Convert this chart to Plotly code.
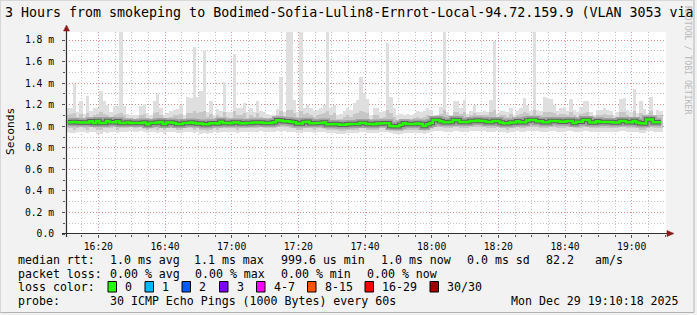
import plotly.graph_objects as go
import pandas as pd

# ---------------- data (ms) ----------------
start_time = "2025-12-29 16:10:50"
step_seconds = 60

rtt_max = [
    1.17, 1.17, 1.39, 1.13, 1.23, 1.11, 1.28, 1.14, 1.17, 1.17, 1.33, 1.23, 1.20, 1.13, 1.19,
    1.19, 1.95, 1.19, 1.11, 1.10, 1.10, 1.10, 1.19, 1.21, 1.12, 1.10, 1.23, 1.30, 1.17, 1.10,
    1.12, 1.14, 1.15, 1.16, 1.20, 1.10, 1.27, 1.26, 1.74, 1.27, 1.33, 1.71, 1.13, 1.23, 1.10,
    1.16, 1.14, 1.41, 1.13, 1.13, 1.67, 1.17, 1.17, 1.22, 1.13, 1.17, 1.13, 1.23, 1.14, 1.13,
    1.11, 1.10, 1.10, 1.16, 1.46, 1.13, 1.95, 1.95, 1.24, 1.13, 1.95, 1.17, 1.20, 1.17, 1.14,
    1.15, 1.17, 1.20, 1.95, 1.17, 1.20, 1.10, 1.11, 1.14, 1.17, 1.15, 1.22, 1.24, 1.46, 1.31,
    1.25, 1.10, 1.17, 1.17, 1.13, 1.14, 1.77, 1.27, 1.17, 1.10, 1.11, 1.10, 1.11, 1.10, 1.11,
    1.14, 1.13, 1.14, 1.17, 1.15, 1.10, 1.10, 1.18, 1.95, 1.13, 1.10, 1.23, 1.23, 1.17, 1.24,
    1.11, 1.14, 1.20, 1.13, 1.13, 1.14, 1.13, 1.24, 1.79, 1.11, 1.14, 1.14, 1.13, 1.17, 1.10,
    1.14, 1.17, 1.26, 1.20, 1.14, 1.95, 1.15, 1.14, 1.27, 1.26, 1.25, 1.20, 1.14, 1.17, 1.18,
    1.14, 1.25, 1.15, 1.13, 1.18, 1.23, 1.23, 1.13, 1.10, 1.15, 1.15, 1.17, 1.15, 1.14, 1.10,
    1.13, 1.25, 1.26, 1.15, 1.13, 1.35, 1.12, 1.23, 1.16, 1.11, 1.27, 1.10, 1.15, 1.14,
]

rtt_p90 = [
    1.10, 1.11, 1.12, 1.09, 1.11, 1.08, 1.12, 1.09, 1.10, 1.11, 1.13, 1.11, 1.10, 1.08, 1.10,
    1.11, 1.12, 1.10, 1.08, 1.08, 1.07, 1.08, 1.10, 1.11, 1.08, 1.07, 1.12, 1.13, 1.10, 1.07,
    1.08, 1.09, 1.10, 1.10, 1.11, 1.07, 1.12, 1.12, 1.14, 1.12, 1.13, 1.14, 1.09, 1.11, 1.08,
    1.10, 1.09, 1.13, 1.09, 1.08, 1.14, 1.10, 1.10, 1.12, 1.08, 1.10, 1.09, 1.12, 1.09, 1.08,
    1.08, 1.07, 1.08, 1.10, 1.14, 1.09, 1.15, 1.15, 1.12, 1.09, 1.14, 1.11, 1.12, 1.10, 1.09,
    1.10, 1.11, 1.12, 1.14, 1.10, 1.12, 1.07, 1.07, 1.09, 1.10, 1.09, 1.11, 1.12, 1.14, 1.13,
    1.12, 1.07, 1.10, 1.10, 1.08, 1.09, 1.15, 1.12, 1.09, 1.06, 1.07, 1.07, 1.07, 1.07, 1.08,
    1.09, 1.08, 1.09, 1.10, 1.09, 1.09, 1.10, 1.11, 1.15, 1.10, 1.09, 1.13, 1.13, 1.11, 1.13,
    1.09, 1.10, 1.12, 1.10, 1.10, 1.10, 1.10, 1.13, 1.15, 1.09, 1.10, 1.10, 1.09, 1.11, 1.08,
    1.10, 1.11, 1.13, 1.12, 1.10, 1.15, 1.10, 1.10, 1.13, 1.13, 1.13, 1.12, 1.10, 1.11, 1.11,
    1.10, 1.13, 1.10, 1.09, 1.11, 1.12, 1.13, 1.09, 1.08, 1.10, 1.10, 1.11, 1.10, 1.10, 1.08,
    1.09, 1.13, 1.13, 1.10, 1.09, 1.14, 1.09, 1.12, 1.10, 1.10, 1.14, 1.08, 1.10, 1.10,
]

rtt_median = [
    1.037, 1.037, 1.040, 1.037, 1.034, 1.034, 1.034, 1.046, 1.031, 1.050,
    1.031, 1.031, 1.050, 1.037, 1.037, 1.046, 1.031, 1.031, 1.034, 1.031,
    1.031, 1.031, 1.031, 1.034, 1.018, 1.031, 1.031, 1.034, 1.040, 1.021,
    1.034, 1.034, 1.031, 1.021, 1.021, 1.031, 1.031, 1.034, 1.031, 1.025,
    1.025, 1.018, 1.018, 1.028, 1.028,
    1.025, 1.043, 1.031, 1.031, 1.028, 1.034, 1.034, 1.028, 1.028, 1.031,
    1.031, 1.034, 1.034, 1.034, 1.031, 1.031, 1.031, 1.037, 1.056, 1.053,
    1.046, 1.046, 1.043, 1.037, 1.025, 1.025, 1.040, 1.043, 1.028, 1.028,
    1.031, 1.031, 1.034, 1.018, 1.018, 1.021, 1.018, 1.015, 1.015, 1.018,
    1.021, 1.021, 1.021, 1.031, 1.031,
    1.021, 1.021, 1.018, 1.025, 1.025, 1.028, 1.028, 1.003, 0.999, 1.000,
    1.015, 1.028, 1.021, 1.021, 1.021, 1.025, 1.021, 1.003, 1.018, 1.031,
    1.059, 1.059, 1.046, 1.037, 1.037, 1.040, 1.059, 1.056, 1.040, 1.040,
    1.040, 1.050, 1.050, 1.053, 1.050, 1.050, 1.040, 1.040, 1.050, 1.050,
    1.034, 1.028, 1.028, 1.034, 1.034,
    1.046, 1.037, 1.037, 1.053, 1.059, 1.059, 1.046, 1.046, 1.037, 1.037,
    1.050, 1.050, 1.050, 1.043, 1.043, 1.050, 1.050, 1.031, 1.043, 1.043,
    1.059, 1.059, 1.034, 1.034, 1.046, 1.040, 1.040, 1.040, 1.040, 1.034,
    1.034, 1.050, 1.050, 1.037, 1.037, 1.050, 1.034, 1.028, 1.025, 1.062,
    1.062, 1.037, 1.037, 1.037,
]

rtt_p10 = [
    0.98, 0.98, 0.97, 0.98, 0.99, 0.98, 0.97, 0.99, 0.98, 0.97, 0.97, 0.98, 0.98, 0.98, 0.99,
    0.97, 0.98, 0.98, 0.98, 0.99, 0.98, 0.98, 0.99, 0.98, 0.97, 0.98, 0.98, 0.97, 0.98, 0.97,
    0.98, 0.98, 0.98, 0.97, 0.97, 0.98, 0.98, 0.98, 0.97, 0.98, 0.97, 0.97, 0.96, 0.97, 0.98,
    0.97, 0.98, 0.98, 0.98, 0.98, 0.98, 0.97, 0.98, 0.98, 0.98, 0.98, 0.98, 0.98, 0.99, 0.98,
    0.98, 0.98, 0.98, 0.99, 0.99, 0.99, 0.99, 0.98, 0.98, 0.97, 0.97, 0.98, 0.98, 0.98, 0.97,
    0.98, 0.98, 0.98, 0.97, 0.97, 0.97, 0.97, 0.96, 0.96, 0.97, 0.97, 0.97, 0.97, 0.98, 0.98,
    0.97, 0.97, 0.97, 0.97, 0.98, 0.98, 0.98, 0.97, 0.96, 0.96, 0.96, 0.97, 0.97, 0.97, 0.97,
    0.97, 0.97, 0.96, 0.97, 0.98, 0.99, 0.99, 0.99, 0.98, 0.98, 0.98, 0.99, 0.99, 0.98, 0.98,
    0.98, 0.99, 0.99, 0.99, 0.99, 0.99, 0.98, 0.98, 0.98, 0.99, 0.98, 0.98, 0.97, 0.98, 0.98,
    0.99, 0.98, 0.98, 0.99, 0.99, 0.99, 0.99, 0.98, 0.98, 0.98, 0.99, 0.99, 0.98, 0.98, 0.98,
    0.99, 0.99, 0.98, 0.98, 0.98, 0.99, 0.99, 0.98, 0.98, 0.98, 0.98, 0.98, 0.98, 0.98, 0.98,
    0.98, 0.99, 0.99, 0.98, 0.98, 0.98, 0.98, 0.97, 0.97, 0.99, 0.99, 0.98, 0.98, 0.98,
]

rtt_min = [
    0.95, 0.94, 0.94, 0.95, 0.95, 0.95, 0.94, 0.95, 0.95, 0.93, 0.93, 0.95, 0.94, 0.95, 0.95,
    0.94, 0.95, 0.95, 0.95, 0.96, 0.95, 0.95, 0.96, 0.95, 0.94, 0.95, 0.95, 0.94, 0.95, 0.93,
    0.95, 0.95, 0.95, 0.94, 0.94, 0.95, 0.95, 0.95, 0.94, 0.95, 0.93, 0.94, 0.93, 0.94, 0.95,
    0.94, 0.95, 0.95, 0.95, 0.95, 0.95, 0.94, 0.95, 0.95, 0.95, 0.95, 0.95, 0.95, 0.96, 0.95,
    0.95, 0.95, 0.95, 0.96, 0.95, 0.96, 0.95, 0.95, 0.95, 0.94, 0.94, 0.95, 0.95, 0.95, 0.94,
    0.95, 0.95, 0.95, 0.94, 0.94, 0.94, 0.93, 0.93, 0.93, 0.94, 0.94, 0.94, 0.94, 0.95, 0.95,
    0.94, 0.94, 0.94, 0.94, 0.95, 0.95, 0.95, 0.94, 0.93, 0.93, 0.93, 0.94, 0.94, 0.94, 0.94,
    0.94, 0.94, 0.93, 0.94, 0.95, 0.96, 0.96, 0.96, 0.95, 0.95, 0.95, 0.96, 0.96, 0.95, 0.95,
    0.95, 0.96, 0.96, 0.96, 0.96, 0.96, 0.95, 0.95, 0.95, 0.96, 0.95, 0.95, 0.94, 0.95, 0.95,
    0.96, 0.95, 0.95, 0.96, 0.96, 0.96, 0.96, 0.95, 0.95, 0.95, 0.96, 0.96, 0.95, 0.95, 0.95,
    0.96, 0.96, 0.95, 0.95, 0.95, 0.96, 0.96, 0.95, 0.95, 0.95, 0.95, 0.95, 0.95, 0.95, 0.95,
    0.95, 0.96, 0.96, 0.95, 0.95, 0.95, 0.95, 0.94, 0.94, 0.96, 0.96, 0.95, 0.95, 0.95,
]

y_tick_vals = [0.0, 0.2, 0.4, 0.6, 0.8, 1.0, 1.2, 1.4, 1.6, 1.8]
y_tick_text = ["0.0", "0.2 m", "0.4 m", "0.6 m", "0.8 m", "1.0 m", "1.2 m", "1.4 m", "1.6 m", "1.8 m"]

title_text = "3 Hours from smokeping to Bodimed-Sofia-Lulin8-Ernrot-Local-94.72.159.9 (VLAN 3053 via"

legend_rows = [
    ["median rtt:", "1.0 ms avg", "1.1 ms max", "999.6 us min", "1.0 ms now", "0.0 ms sd", "82.2", "am/s"],
    ["packet loss:", "0.00 % avg", "0.00 % max", "0.00 % min", "0.00 % now"],
]
loss_labels = ["0", "1", "2", "3", "4-7", "8-15", "16-29", "30/30"]
loss_colors = ["#26ff00", "#00b8ff", "#0059ff", "#7e00ff", "#ff00ff", "#ff5500", "#ff0000", "#a10000"]
probe_text = "30 ICMP Echo Pings (1000 Bytes) every 60s"
stamp_text = "Mon Dec 29 19:10:18 2025"

n = len(rtt_median)
assert all(len(a) == n for a in (rtt_max, rtt_p90, rtt_p10, rtt_min))

times = pd.date_range(start_time, periods=n, freq=f"{step_seconds}s")

# ---------------- geometry ----------------
W, H = 697, 315
ML, MR, MT, MB = 66, 31, 32, 81
PW, PH = W - ML - MR, H - MT - MB


def fx(px):
    return (px - ML) / PW


def fy(py):
    return (H - MB - py) / PH


MONO = "DejaVu Sans Mono"
BG = "#f2f2f2"

fig = go.Figure()
fig.add_trace(go.Bar(
    x=times, y=[hi - lo for hi, lo in zip(rtt_max, rtt_min)], base=rtt_min,
    width=step_seconds * 1000, marker=dict(color="#dfdfdf", line=dict(width=0)), hoverinfo="skip"))
fig.add_trace(go.Bar(
    x=times, y=[hi - lo for hi, lo in zip(rtt_p90, rtt_p10)], base=rtt_p10,
    width=step_seconds * 1000, marker=dict(color="#c6c6c6", line=dict(width=0)), hoverinfo="skip"))
fig.add_trace(go.Scatter(x=times, y=rtt_median, mode="lines",
                         line=dict(shape="hvh", color="#a2a2a2", width=8), hoverinfo="skip"))
fig.add_trace(go.Scatter(x=times, y=rtt_median, mode="lines",
                         line=dict(shape="hvh", color="#606060", width=4.5), hoverinfo="skip"))
fig.add_trace(go.Scatter(x=times, y=rtt_median, mode="lines",
                         line=dict(shape="hvh", color="#26ff00", width=2.5)))

major_grid = "rgba(225,120,120,0.75)"
minor_grid = "#c4c4c4"

fig.update_layout(
    width=W, height=H, margin=dict(l=ML, r=MR, t=MT, b=MB, pad=0),
    paper_bgcolor=BG, plot_bgcolor="#ffffff",
    barmode="overlay", bargap=0, showlegend=False,
    font=dict(family=MONO, size=10, color="#000000"),
    xaxis=dict(
        type="date", range=["2025-12-29 16:10:18", "2025-12-29 19:10:18"],
        tick0="2025-12-29 16:20:00", dtick=20 * 60 * 1000, tickformat="%H:%M",
        showgrid=True, gridcolor=major_grid, griddash="1px,2px", gridwidth=1,
        minor=dict(dtick=5 * 60 * 1000, showgrid=True, gridcolor=minor_grid, griddash="1px,2px",
                   ticks="outside", ticklen=2, tickcolor="#555555"),
        ticks="outside", ticklen=3, tickcolor="#555555",
        tickfont=dict(family=MONO, size=9.7, color="#000000"),
        zeroline=False, showline=False, fixedrange=True,
    ),
    yaxis=dict(
        range=[0, 1.875], tickmode="array", tickvals=y_tick_vals, ticktext=y_tick_text,
        showgrid=True, gridcolor=major_grid, griddash="1px,2px", gridwidth=1,
        minor=dict(dtick=0.1, tick0=0, showgrid=True, gridcolor=minor_grid, griddash="1px,2px",
                   ticks="outside", ticklen=2, tickcolor="#555555"),
        ticks="outside", ticklen=3, tickcolor="#555555", ticklabelstandoff=6,
        tickfont=dict(family=MONO, size=9.7, color="#000000"),
        zeroline=False, showline=False, fixedrange=True,
    ),
)

shapes = []
# frame
shapes.append(dict(type="line", xref="paper", yref="paper", x0=fx(0), x1=fx(694), y0=fy(312.5), y1=fy(312.5),
                   line=dict(color="#b4b4b4", width=1)))
shapes.append(dict(type="line", xref="paper", yref="paper", x0=fx(694), x1=fx(694), y0=fy(0), y1=fy(312.5),
                   line=dict(color="#b4b4b4", width=1)))
shapes.append(dict(type="line", xref="paper", yref="paper", x0=fx(0.5), x1=fx(694), y0=fy(0.5), y1=fy(0.5),
                   line=dict(color="#d8d8d8", width=1)))
shapes.append(dict(type="line", xref="paper", yref="paper", x0=fx(0.5), x1=fx(0.5), y0=fy(0), y1=fy(312.5),
                   line=dict(color="#d8d8d8", width=1)))
# axes
shapes.append(dict(type="line", xref="paper", yref="paper", x0=fx(62), x1=fx(668), y0=fy(233.5), y1=fy(233.5),
                   line=dict(color="#303030", width=1.2)))
shapes.append(dict(type="line", xref="paper", yref="paper", x0=fx(66.5), x1=fx(66.5), y0=fy(237), y1=fy(29),
                   line=dict(color="#303030", width=1.2)))
# arrows
shapes.append(dict(type="path", xref="paper", yref="paper",
                   path=f"M {fx(667)} {fy(230.5)} L {fx(674)} {fy(233.5)} L {fx(667)} {fy(236.5)} Z",
                   fillcolor="#8b1a1a", line=dict(color="#8b1a1a", width=0.5)))
shapes.append(dict(type="path", xref="paper", yref="paper",
                   path=f"M {fx(63.5)} {fy(31)} L {fx(66.5)} {fy(25)} L {fx(69.5)} {fy(31)} Z",
                   fillcolor="#8b1a1a", line=dict(color="#8b1a1a", width=0.5)))

annotations = []


def txt(x, y, s, size=11.6, anchor="left", color="#000000"):
    annotations.append(dict(x=fx(x), y=fy(y), xref="paper", yref="paper", text=s, showarrow=False,
                            xanchor=anchor, yanchor="middle",
                            font=dict(family=MONO, size=size, color=color)))


annotations.append(dict(x=fx(688.5), y=fy(4), xref="paper", yref="paper", text="RRDTOOL / TOBI OETIKER",
                        showarrow=False, textangle=90, xanchor="center", yanchor="top",
                        font=dict(family=MONO, size=8.2, color="#b8b8b8")))
txt(3, 13, title_text, size=13.3)
annotations.append(dict(x=fx(10), y=fy(132), xref="paper", yref="paper", text="Seconds", showarrow=False,
                        textangle=-90, xanchor="center", yanchor="middle",
                        font=dict(family=MONO, size=11.2, color="#000000")))

row1_x = [16, 107.6, 192, 279.2, 378.7, 465, 544, 593]
row2_x = [16, 107.6, 193, 279, 365]
for s, x in zip(legend_rows[0], row1_x):
    txt(x, 259.5, s)
for s, x in zip(legend_rows[1], row2_x):
    txt(x, 273.5, s)
txt(16, 287, "loss color:")
box_x = [108, 145, 182, 219.5, 256.5, 307.5, 365, 430]
for bx, lab, col in zip(box_x, loss_labels, loss_colors):
    shapes.append(dict(type="rect", xref="paper", yref="paper", x0=fx(bx), x1=fx(bx + 8.5),
                       y0=fy(292), y1=fy(281.5), fillcolor=col, line=dict(color="#000000", width=1)))
    txt(bx + 15, 287, lab)
txt(16, 301, "probe:")
txt(107.6, 301, probe_text)
txt(681, 301, stamp_text, anchor="right")

fig.update_layout(shapes=shapes, annotations=annotations)
fig.write_html("out.html", config={"displayModeBar": False})
